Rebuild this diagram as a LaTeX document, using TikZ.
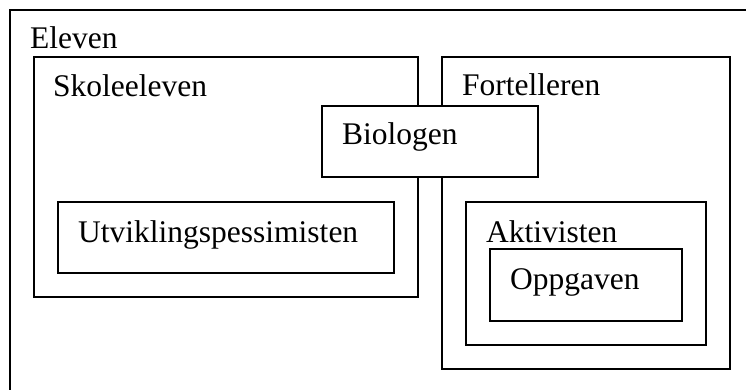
\documentclass[tikz,border=0pt]{standalone}
\usepackage{fontspec}
\setmainfont{Liberation Serif}
\begin{document}
\begin{tikzpicture}[x=1pt,y=-1pt,
  frame/.style={draw=black, line width=1.8pt, rectangle, inner sep=0pt, anchor=north west},
  lbl/.style={inner sep=0pt, anchor=base west, font=\fontsize{31.5}{38}\selectfont}]
  \useasboundingbox (0,0) rectangle (746,390);
  \clip (0,0) rectangle (746,390);
  \fill[white] (0,0) rectangle (746,390);

  % outer frame, running off the right and bottom edges
  \node[frame, minimum width=760pt, minimum height=400pt] (eleven) at (9,9) {};
  \node[lbl] (elevenT) at (30,49) {Eleven};

  % left group
  \node[frame, minimum width=384pt, minimum height=240pt] (skole) at (33,56) {};
  \node[lbl] (skoleT) at (53,97) {Skoleeleven};
  \node[frame, minimum width=336pt, minimum height=71pt] (utv) at (57,201) {};
  \node[lbl] (utvT) at (78,242) {Utviklingspessimisten};

  % right group
  \node[frame, minimum width=288pt, minimum height=312pt] (fort) at (441,56) {};
  \node[lbl] (fortT) at (462,96) {Fortelleren};
  \node[frame, minimum width=240pt, minimum height=143pt] (akt) at (465,201) {};
  \node[lbl] (aktT) at (486,242) {Aktivisten};
  \node[frame, minimum width=192pt, minimum height=72pt] (opp) at (489,248) {};
  \node[lbl] (oppT) at (510,289) {Oppgaven};

  % overlapping box on top of both groups
  \node[frame, fill=white, minimum width=216pt, minimum height=71pt] (bio) at (321,105) {};
  \node[lbl] (bioT) at (342,145) {Biologen};
\end{tikzpicture}
\end{document}
